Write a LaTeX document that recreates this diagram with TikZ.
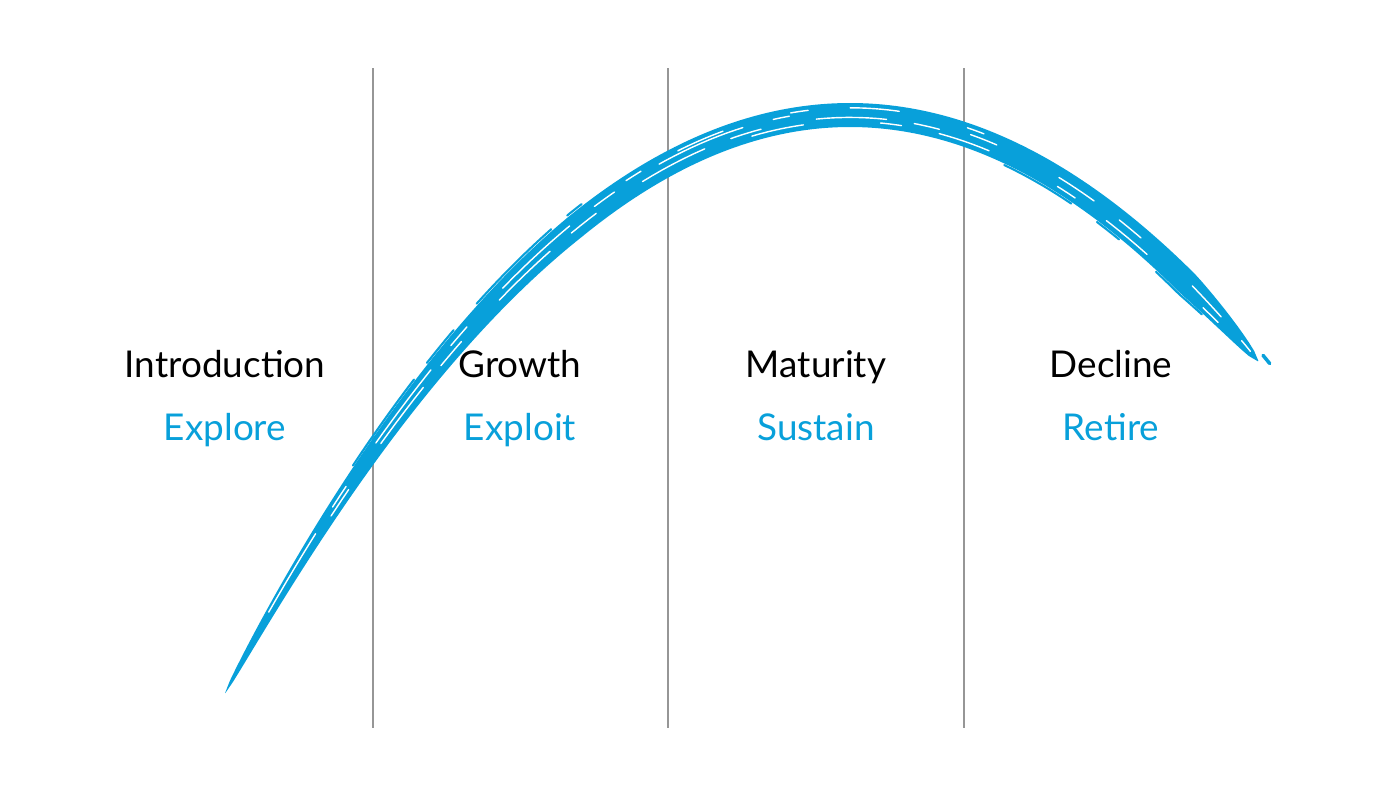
\documentclass[tikz,border=0pt]{standalone}
\usepackage{fontspec}
\setmainfont{Lato}
\usepackage{tikz}
\usetikzlibrary{positioning}

\definecolor{brushblue}{RGB}{8,160,218}
\definecolor{divgray}{RGB}{150,150,150}

\begin{document}
\begin{tikzpicture}[x=0.1mm, y=-0.1mm,
    declare function={
      px(\t)=850+100*\t;
      py(\t)=115+14.8*\t*\t;
      sl(\t)=0.296*\t;
      hw(\t)=12*sqrt(min(1,max(0,(\t+6.25)/3.5)))*sqrt(min(1,max(0,(4.08-\t)/0.7)));
      nx(\t)=sl(\t)/sqrt(1+sl(\t)*sl(\t));
      ny(\t)=-1/sqrt(1+sl(\t)*sl(\t));
    },
    stage/.style={anchor=base, font=\fontsize{10.5}{12}\selectfont, text=black},
    action/.style={anchor=base, font=\fontsize{10.5}{12}\selectfont, text=brushblue},
    divider/.style={draw=divgray, line width=0.6pt},
    streak/.style={white, line width=0.4pt, line cap=round},
    strand/.style={brushblue, line width=0.6pt, line cap=round}]
    \useasboundingbox (0,0) rectangle (1400,787);
    % Dividers between the stages
    \foreach \x/\n in {373/a, 668/b, 964/c} {
      \coordinate (top\n) at (\x,68);
      \coordinate (bot\n) at (\x,728);
      \draw[divider] (top\n) -- (bot\n);
    }
    % Brush stroke of the life cycle
    \fill[brushblue] plot[domain=-6.25:4.08, samples=160] ({px(\x)+hw(\x)*nx(\x)}, {py(\x)+hw(\x)*ny(\x)})
      -- plot[domain=4.08:-6.25, samples=160] ({px(\x)-hw(\x)*nx(\x)}, {py(\x)-hw(\x)*ny(\x)})
      -- cycle;
    % bristle gaps
    \foreach \o/\a/\b/\p in {0.35/-5.8/-0.6/{on 26pt off 9pt on 7pt off 15pt},
        -0.2/-5.2/0.9/{on 9pt off 16pt on 20pt off 8pt},
        0.6/-2.2/1.6/{on 5pt off 12pt on 14pt off 20pt},
        -0.55/-1.0/3.9/{on 15pt off 22pt on 6pt off 11pt},
        0.15/1.2/4.0/{on 8pt off 20pt on 12pt off 9pt}} {
      \draw[streak, dash pattern/.expanded=\p] plot[domain=\a:\b, samples=60] ({px(\x)+\o*hw(\x)*nx(\x)}, {py(\x)+\o*hw(\x)*ny(\x)});
    }
    % loose strands along the edges
    \foreach \o/\a/\b/\p in {1.15/-4.9/-2.6/{on 30pt off 6pt on 12pt off 10pt},
        -1.12/1.6/3.6/{on 22pt off 9pt on 8pt off 14pt}} {
      \draw[strand, dash pattern/.expanded=\p] plot[domain=\a:\b, samples=50] ({px(\x)+\o*hw(\x)*nx(\x)}, {py(\x)+\o*hw(\x)*ny(\x)});
    }
    \draw[strand, line width=1pt, dash pattern=on 3pt off 2.5pt] plot[domain=4.08:4.18, samples=6] ({px(\x)+5}, {py(\x)-6});
    % Stage labels
    \node[stage] (intro) at (225,377) {Introduction};
    \node[stage] (growth) at (520,377) {Growth};
    \node[stage] (maturity) at (816,377) {Maturity};
    \node[stage] (decline) at (1111,377) {Decline};
    \node[action] (explore) at (225,440) {Explore};
    \node[action] (exploit) at (520,440) {Exploit};
    \node[action] (sustain) at (816,440) {Sustain};
    \node[action] (retire) at (1111,440) {Retire};
\end{tikzpicture}
\end{document}
